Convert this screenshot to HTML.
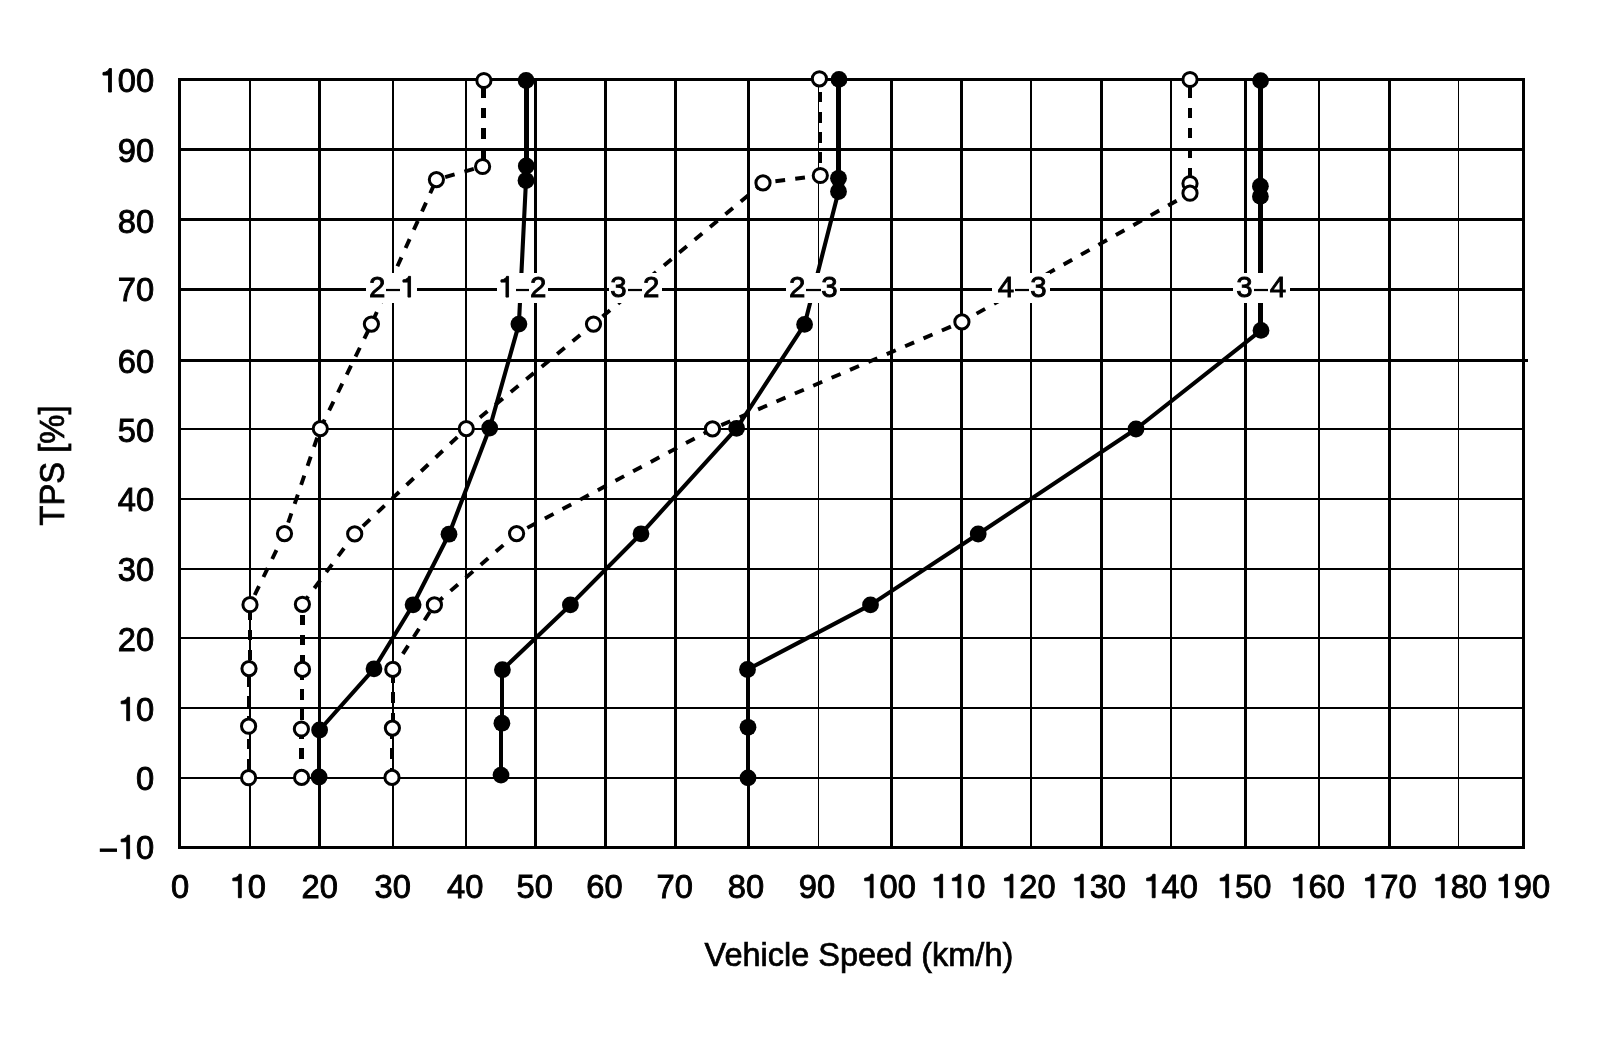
<!DOCTYPE html>
<html><head><meta charset="utf-8"><style>
html,body{margin:0;padding:0;background:#fff;width:1600px;height:1048px;overflow:hidden}
svg{display:block;will-change:transform}
text{font-family:"Liberation Sans",sans-serif}
</style></head><body>
<svg width="1600" height="1048" viewBox="0 0 1600 1048">
<rect x="0" y="0" width="1600" height="1048" fill="#fff"/>
<g shape-rendering="crispEdges" fill="#000">
<rect x="178" y="78" width="3" height="771"/>
<rect x="249" y="78" width="2" height="771"/>
<rect x="318" y="78" width="3" height="771"/>
<rect x="392" y="78" width="2" height="771"/>
<rect x="465" y="78" width="2" height="771"/>
<rect x="534" y="78" width="3" height="771"/>
<rect x="604" y="78" width="3" height="771"/>
<rect x="674" y="78" width="3" height="771"/>
<rect x="747" y="78" width="3" height="771"/>
<rect x="818" y="78" width="1" height="771"/>
<rect x="890" y="78" width="3" height="771"/>
<rect x="960" y="78" width="3" height="771"/>
<rect x="1030" y="78" width="2" height="771"/>
<rect x="1100" y="78" width="3" height="771"/>
<rect x="1170" y="78" width="2" height="771"/>
<rect x="1244" y="78" width="3" height="771"/>
<rect x="1318" y="78" width="2" height="771"/>
<rect x="1388" y="78" width="3" height="771"/>
<rect x="1458" y="78" width="1" height="771"/>
<rect x="1522" y="78" width="3" height="771"/>
<rect x="178" y="78" width="1347" height="3"/>
<rect x="178" y="148" width="1347" height="3"/>
<rect x="178" y="218" width="1347" height="3"/>
<rect x="178" y="288" width="1347" height="3"/>
<rect x="178" y="359" width="1350" height="3"/>
<rect x="178" y="428" width="1347" height="2"/>
<rect x="178" y="498" width="1347" height="2"/>
<rect x="178" y="568" width="1347" height="2"/>
<rect x="178" y="637" width="1347" height="2"/>
<rect x="178" y="707" width="1347" height="2"/>
<rect x="178" y="777" width="1347" height="2"/>
<rect x="178" y="846" width="1347" height="3"/>
</g>
<g fill="none" stroke="#000" stroke-dasharray="10.5 9.7">
<line x1="248.6" y1="777.7" x2="248.6" y2="726.2" stroke-width="4.0" stroke-dashoffset="12.1" shape-rendering="crispEdges"/>
<line x1="248.8" y1="726.2" x2="248.8" y2="668.6" stroke-width="4.0" stroke-dashoffset="0.7" shape-rendering="crispEdges"/>
<line x1="249.5" y1="668.6" x2="249.5" y2="604.7" stroke-width="4.0" stroke-dashoffset="11.8" shape-rendering="crispEdges"/>
<line x1="250" y1="604.7" x2="284.5" y2="533.6" stroke-width="3.9" stroke-dashoffset="9.2" stroke-dasharray="9.8 10.2"/>
<line x1="284.5" y1="533.6" x2="320.3" y2="428.6" stroke-width="3.9" stroke-dashoffset="8.5" stroke-dasharray="9.8 10.2"/>
<line x1="320.3" y1="428.6" x2="371.4" y2="324.1" stroke-width="3.9" stroke-dashoffset="19.8" stroke-dasharray="9.8 10.2"/>
<line x1="371.4" y1="324.1" x2="436.4" y2="179.6" stroke-width="3.9" stroke-dashoffset="16.6" stroke-dasharray="9.8 10.2"/>
<line x1="436.4" y1="179.6" x2="482.6" y2="166.5" stroke-width="3.9" stroke-dashoffset="10.9" stroke-dasharray="9.8 10.2"/>
<line x1="483.25" y1="166.5" x2="483.25" y2="80.5" stroke-width="4.6" stroke-dashoffset="12.5" shape-rendering="crispEdges"/>
<line x1="301.5" y1="777.4" x2="301.5" y2="729" stroke-width="4.6" stroke-dashoffset="1.7" shape-rendering="crispEdges"/>
<line x1="301.95" y1="729" x2="301.95" y2="669.4" stroke-width="4.6" stroke-dashoffset="11.1" shape-rendering="crispEdges"/>
<line x1="302.45" y1="669.4" x2="302.45" y2="604.3" stroke-width="4.6" stroke-dashoffset="16.3" shape-rendering="crispEdges"/>
<line x1="302.4" y1="604.3" x2="354.7" y2="533.9" stroke-width="3.9" stroke-dashoffset="0.0" stroke-dasharray="9.8 10.2"/>
<line x1="354.7" y1="533.9" x2="466.3" y2="428.6" stroke-width="3.9" stroke-dashoffset="8.7" stroke-dasharray="9.8 10.2"/>
<line x1="466.3" y1="428.6" x2="593.5" y2="324.1" stroke-width="3.9" stroke-dashoffset="2.4" stroke-dasharray="9.8 10.2"/>
<line x1="593.5" y1="324.1" x2="763" y2="182.9" stroke-width="3.9" stroke-dashoffset="8.3" stroke-dasharray="9.8 10.2"/>
<line x1="763" y1="182.9" x2="820.3" y2="175.5" stroke-width="3.9" stroke-dashoffset="7.5" stroke-dasharray="9.8 10.2"/>
<line x1="820.45" y1="175.5" x2="820.45" y2="78.8" stroke-width="3.0" stroke-dashoffset="7.6" shape-rendering="crispEdges"/>
<line x1="392.2" y1="777.4" x2="392.2" y2="728.1" stroke-width="4.2" stroke-dashoffset="1.5" shape-rendering="crispEdges"/>
<line x1="392.6" y1="728.1" x2="392.6" y2="669.4" stroke-width="4.2" stroke-dashoffset="15.1" shape-rendering="crispEdges"/>
<line x1="392.8" y1="669.4" x2="434.4" y2="604.9" stroke-width="3.9" stroke-dashoffset="1.5" stroke-dasharray="9.8 10.2"/>
<line x1="434.4" y1="604.9" x2="516.6" y2="533.6" stroke-width="3.9" stroke-dashoffset="18.6" stroke-dasharray="9.8 10.2"/>
<line x1="516.6" y1="533.6" x2="712.5" y2="428.9" stroke-width="3.9" stroke-dashoffset="7.9" stroke-dasharray="9.8 10.2"/>
<line x1="712.5" y1="428.9" x2="961.9" y2="321.9" stroke-width="3.9" stroke-dashoffset="10.4" stroke-dasharray="9.8 10.2"/>
<line x1="961.9" y1="321.9" x2="1190" y2="193.2" stroke-width="3.9" stroke-dashoffset="3.2" stroke-dasharray="9.8 10.2"/>
<line x1="1190.0" y1="193.2" x2="1190.0" y2="183.5" stroke-width="4.4" stroke-dashoffset="0" shape-rendering="crispEdges"/>
<line x1="1190.0" y1="183.5" x2="1190.0" y2="79.5" stroke-width="4.2" stroke-dashoffset="15.3" shape-rendering="crispEdges"/>
</g>
<g fill="none" stroke="#000" stroke-linecap="round">
<line x1="319.35" y1="777" x2="319.35" y2="730" stroke-width="4.0" shape-rendering="crispEdges"/>
<line x1="319.6" y1="730" x2="374" y2="668.8" stroke-width="4.1"/>
<line x1="374" y1="668.8" x2="413.1" y2="604.8" stroke-width="4.1"/>
<line x1="413.1" y1="604.8" x2="449" y2="534.2" stroke-width="4.1"/>
<line x1="449" y1="534.2" x2="489.7" y2="428" stroke-width="4.1"/>
<line x1="489.7" y1="428" x2="518.9" y2="324.1" stroke-width="4.1"/>
<line x1="518.9" y1="324.1" x2="526" y2="180.5" stroke-width="4.1"/>
<line x1="526.15" y1="180.5" x2="526.15" y2="166" stroke-width="5.0" shape-rendering="crispEdges"/>
<line x1="526.2" y1="166" x2="526.2" y2="80.5" stroke-width="5.0" shape-rendering="crispEdges"/>
<line x1="501.45" y1="775.1" x2="501.45" y2="723.2" stroke-width="4.0" shape-rendering="crispEdges"/>
<line x1="502.15" y1="723.2" x2="502.15" y2="669.7" stroke-width="4.0" shape-rendering="crispEdges"/>
<line x1="502.4" y1="669.7" x2="570.4" y2="604.9" stroke-width="4.1"/>
<line x1="570.4" y1="604.9" x2="641" y2="533.8" stroke-width="4.1"/>
<line x1="641" y1="533.8" x2="736.6" y2="428.3" stroke-width="4.1"/>
<line x1="736.6" y1="428.3" x2="804.6" y2="324.4" stroke-width="4.1"/>
<line x1="804.6" y1="324.4" x2="838.5" y2="191.5" stroke-width="4.1"/>
<line x1="838.5" y1="191.5" x2="838.5" y2="178.3" stroke-width="5.0" shape-rendering="crispEdges"/>
<line x1="838.75" y1="178.3" x2="838.75" y2="79.4" stroke-width="5.0" shape-rendering="crispEdges"/>
<line x1="748.0" y1="777.9" x2="748.0" y2="727.3" stroke-width="4.0" shape-rendering="crispEdges"/>
<line x1="747.75" y1="727.3" x2="747.75" y2="669.5" stroke-width="4.0" shape-rendering="crispEdges"/>
<line x1="747.5" y1="669.5" x2="870.5" y2="604.9" stroke-width="4.1"/>
<line x1="870.5" y1="604.9" x2="978.2" y2="534" stroke-width="4.1"/>
<line x1="978.2" y1="534" x2="1136" y2="429" stroke-width="4.1"/>
<line x1="1136" y1="429" x2="1261" y2="330.4" stroke-width="4.1"/>
<line x1="1260.7" y1="330.4" x2="1260.7" y2="196.4" stroke-width="5.0" shape-rendering="crispEdges"/>
<line x1="1260.4" y1="196.4" x2="1260.4" y2="186.2" stroke-width="5.0" shape-rendering="crispEdges"/>
<line x1="1260.5" y1="186.2" x2="1260.5" y2="80.6" stroke-width="5.0" shape-rendering="crispEdges"/>
</g>
<g fill="#fff" stroke="#000" stroke-width="3">
<circle cx="483.9" cy="80.5" r="7.1"/>
<circle cx="482.6" cy="166.5" r="7.1"/>
<circle cx="436.4" cy="179.6" r="7.1"/>
<circle cx="371.4" cy="324.1" r="7.1"/>
<circle cx="320.3" cy="428.6" r="7.1"/>
<circle cx="284.5" cy="533.6" r="7.1"/>
<circle cx="250" cy="604.7" r="7.1"/>
<circle cx="249" cy="668.6" r="7.1"/>
<circle cx="248.6" cy="726.2" r="7.1"/>
<circle cx="248.6" cy="777.7" r="7.1"/>
<circle cx="819.4" cy="78.8" r="7.1"/>
<circle cx="820.3" cy="175.5" r="7.1"/>
<circle cx="763" cy="182.9" r="7.1"/>
<circle cx="593.5" cy="324.1" r="7.1"/>
<circle cx="466.3" cy="428.6" r="7.1"/>
<circle cx="354.7" cy="533.9" r="7.1"/>
<circle cx="302.4" cy="604.3" r="7.1"/>
<circle cx="302.5" cy="669.4" r="7.1"/>
<circle cx="301.4" cy="729" r="7.1"/>
<circle cx="301.6" cy="777.4" r="7.1"/>
<circle cx="1190" cy="79.5" r="7.1"/>
<circle cx="1190" cy="183.5" r="7.1"/>
<circle cx="1190" cy="193.2" r="7.1"/>
<circle cx="961.9" cy="321.9" r="7.1"/>
<circle cx="712.5" cy="428.9" r="7.1"/>
<circle cx="516.6" cy="533.6" r="7.1"/>
<circle cx="434.4" cy="604.9" r="7.1"/>
<circle cx="392.8" cy="669.4" r="7.1"/>
<circle cx="392.4" cy="728.1" r="7.1"/>
<circle cx="392" cy="777.4" r="7.1"/>
</g><g fill="#000">
<circle cx="319.1" cy="777" r="8.4"/>
<circle cx="319.6" cy="730" r="8.4"/>
<circle cx="374" cy="668.8" r="8.4"/>
<circle cx="413.1" cy="604.8" r="8.4"/>
<circle cx="449" cy="534.2" r="8.4"/>
<circle cx="489.7" cy="428" r="8.4"/>
<circle cx="518.9" cy="324.1" r="8.4"/>
<circle cx="526" cy="180.5" r="8.4"/>
<circle cx="526.3" cy="166" r="8.4"/>
<circle cx="526.1" cy="80.5" r="8.4"/>
<circle cx="501" cy="775.1" r="8.4"/>
<circle cx="501.9" cy="723.2" r="8.4"/>
<circle cx="502.4" cy="669.7" r="8.4"/>
<circle cx="570.4" cy="604.9" r="8.4"/>
<circle cx="641" cy="533.8" r="8.4"/>
<circle cx="736.6" cy="428.3" r="8.4"/>
<circle cx="804.6" cy="324.4" r="8.4"/>
<circle cx="838.5" cy="191.5" r="8.4"/>
<circle cx="838.5" cy="178.3" r="8.4"/>
<circle cx="839" cy="79.4" r="8.4"/>
<circle cx="748" cy="777.9" r="8.4"/>
<circle cx="748" cy="727.3" r="8.4"/>
<circle cx="747.5" cy="669.5" r="8.4"/>
<circle cx="870.5" cy="604.9" r="8.4"/>
<circle cx="978.2" cy="534" r="8.4"/>
<circle cx="1136" cy="429" r="8.4"/>
<circle cx="1261" cy="330.4" r="8.4"/>
<circle cx="1260.4" cy="196.4" r="8.4"/>
<circle cx="1260.4" cy="186.2" r="8.4"/>
<circle cx="1260.6" cy="80.6" r="8.4"/>
</g>
<g fill="#000" stroke="#000" stroke-width="0.90">
<rect x="366" y="273" width="51" height="30" fill="#fff" stroke="none"/>
<text transform="translate(368.97 297.10) scale(1 1.0)" font-size="29.5">2</text>
<rect x="386" y="288.9" width="14" height="2.2" stroke="none"/>
<path d="M359 0L359 703L290 703C272 645 220 590 101 583L101 508L271 508L271 0Z" transform="translate(399.96 297.10) scale(0.02950 -0.02950)" stroke-width="30.51"/>
<rect x="497" y="273" width="51" height="30" fill="#fff" stroke="none"/>
<path d="M359 0L359 703L290 703C272 645 220 590 101 583L101 508L271 508L271 0Z" transform="translate(497.96 297.10) scale(0.02950 -0.02950)" stroke-width="30.51"/>
<rect x="516" y="288.9" width="13" height="2.2" stroke="none"/>
<text transform="translate(529.97 297.10) scale(1 1.0)" font-size="29.5">2</text>
<rect x="609" y="273" width="53" height="30" fill="#fff" stroke="none"/>
<text transform="translate(610.33 297.10) scale(1 1.0)" font-size="29.5">3</text>
<rect x="628" y="288.9" width="14" height="2.2" stroke="none"/>
<text transform="translate(642.97 297.10) scale(1 1.0)" font-size="29.5">2</text>
<rect x="786" y="273" width="54" height="30" fill="#fff" stroke="none"/>
<text transform="translate(788.97 297.10) scale(1 1.0)" font-size="29.5">2</text>
<rect x="806" y="288.9" width="15" height="2.2" stroke="none"/>
<text transform="translate(821.33 297.10) scale(1 1.0)" font-size="29.5">3</text>
<rect x="992" y="273" width="58" height="30" fill="#fff" stroke="none"/>
<text transform="translate(997.77 297.10) scale(1 1.0)" font-size="29.5">4</text>
<rect x="1015" y="288.9" width="14" height="2.2" stroke="none"/>
<text transform="translate(1030.33 297.10) scale(1 1.0)" font-size="29.5">3</text>
<rect x="1233" y="273" width="57" height="30" fill="#fff" stroke="none"/>
<text transform="translate(1236.33 297.10) scale(1 1.0)" font-size="29.5">3</text>
<rect x="1254" y="288.9" width="14" height="2.2" stroke="none"/>
<text transform="translate(1269.77 297.10) scale(1 1.0)" font-size="29.5">4</text>
</g>
<g fill="#000" stroke="#000" stroke-width="0.90">
<path d="M359 0L359 703L290 703C272 645 220 590 101 583L101 508L271 508L271 0Z" transform="translate(99.68 92.00) scale(0.03270 -0.03335)" stroke-width="27.52"/>
<text transform="translate(117.86 92.00) scale(1 1.02)" font-size="32.7">0</text>
<text transform="translate(136.04 92.00) scale(1 1.02)" font-size="32.7">0</text>
<text transform="translate(117.86 162.20) scale(1 1.02)" font-size="32.7">9</text>
<text transform="translate(136.04 162.20) scale(1 1.02)" font-size="32.7">0</text>
<text transform="translate(117.86 233.40) scale(1 1.02)" font-size="32.7">8</text>
<text transform="translate(136.04 233.40) scale(1 1.02)" font-size="32.7">0</text>
<text transform="translate(117.86 300.70) scale(1 1.02)" font-size="32.7">7</text>
<text transform="translate(136.04 300.70) scale(1 1.02)" font-size="32.7">0</text>
<text transform="translate(117.86 372.50) scale(1 1.02)" font-size="32.7">6</text>
<text transform="translate(136.04 372.50) scale(1 1.02)" font-size="32.7">0</text>
<text transform="translate(117.86 441.90) scale(1 1.02)" font-size="32.7">5</text>
<text transform="translate(136.04 441.90) scale(1 1.02)" font-size="32.7">0</text>
<text transform="translate(117.86 511.00) scale(1 1.02)" font-size="32.7">4</text>
<text transform="translate(136.04 511.00) scale(1 1.02)" font-size="32.7">0</text>
<text transform="translate(117.86 581.30) scale(1 1.02)" font-size="32.7">3</text>
<text transform="translate(136.04 581.30) scale(1 1.02)" font-size="32.7">0</text>
<text transform="translate(117.86 651.00) scale(1 1.02)" font-size="32.7">2</text>
<text transform="translate(136.04 651.00) scale(1 1.02)" font-size="32.7">0</text>
<path d="M359 0L359 703L290 703C272 645 220 590 101 583L101 508L271 508L271 0Z" transform="translate(117.86 720.70) scale(0.03270 -0.03335)" stroke-width="27.52"/>
<text transform="translate(136.04 720.70) scale(1 1.02)" font-size="32.7">0</text>
<text transform="translate(136.04 790.30) scale(1 1.02)" font-size="32.7">0</text>
<path d="M359 0L359 703L290 703C272 645 220 590 101 583L101 508L271 508L271 0Z" transform="translate(117.86 858.70) scale(0.03270 -0.03335)" stroke-width="27.52"/>
<text transform="translate(136.04 858.70) scale(1 1.02)" font-size="32.7">0</text>
<rect x="99.8" y="848.5" width="17.2" height="3.4" stroke="none"/>
<text transform="translate(170.91 897.70) scale(1 1.02)" font-size="32.7">0</text>
<path d="M359 0L359 703L290 703C272 645 220 590 101 583L101 508L271 508L271 0Z" transform="translate(229.52 897.70) scale(0.03270 -0.03335)" stroke-width="27.52"/>
<text transform="translate(247.70 897.70) scale(1 1.02)" font-size="32.7">0</text>
<text transform="translate(301.50 897.70) scale(1 1.02)" font-size="32.7">2</text>
<text transform="translate(319.68 897.70) scale(1 1.02)" font-size="32.7">0</text>
<text transform="translate(374.62 897.70) scale(1 1.02)" font-size="32.7">3</text>
<text transform="translate(392.80 897.70) scale(1 1.02)" font-size="32.7">0</text>
<text transform="translate(447.01 897.70) scale(1 1.02)" font-size="32.7">4</text>
<text transform="translate(465.20 897.70) scale(1 1.02)" font-size="32.7">0</text>
<text transform="translate(516.50 897.70) scale(1 1.02)" font-size="32.7">5</text>
<text transform="translate(534.68 897.70) scale(1 1.02)" font-size="32.7">0</text>
<text transform="translate(586.30 897.70) scale(1 1.02)" font-size="32.7">6</text>
<text transform="translate(604.48 897.70) scale(1 1.02)" font-size="32.7">0</text>
<text transform="translate(656.62 897.70) scale(1 1.02)" font-size="32.7">7</text>
<text transform="translate(674.80 897.70) scale(1 1.02)" font-size="32.7">0</text>
<text transform="translate(727.70 897.70) scale(1 1.02)" font-size="32.7">8</text>
<text transform="translate(745.88 897.70) scale(1 1.02)" font-size="32.7">0</text>
<text transform="translate(798.74 897.70) scale(1 1.02)" font-size="32.7">9</text>
<text transform="translate(816.92 897.70) scale(1 1.02)" font-size="32.7">0</text>
<path d="M359 0L359 703L290 703C272 645 220 590 101 583L101 508L271 508L271 0Z" transform="translate(861.38 897.70) scale(0.03270 -0.03335)" stroke-width="27.52"/>
<text transform="translate(879.56 897.70) scale(1 1.02)" font-size="32.7">0</text>
<text transform="translate(897.74 897.70) scale(1 1.02)" font-size="32.7">0</text>
<path d="M359 0L359 703L290 703C272 645 220 590 101 583L101 508L271 508L271 0Z" transform="translate(930.88 897.70) scale(0.03270 -0.03335)" stroke-width="27.52"/>
<path d="M359 0L359 703L290 703C272 645 220 590 101 583L101 508L271 508L271 0Z" transform="translate(949.06 897.70) scale(0.03270 -0.03335)" stroke-width="27.52"/>
<text transform="translate(967.24 897.70) scale(1 1.02)" font-size="32.7">0</text>
<path d="M359 0L359 703L290 703C272 645 220 590 101 583L101 508L271 508L271 0Z" transform="translate(1001.18 897.70) scale(0.03270 -0.03335)" stroke-width="27.52"/>
<text transform="translate(1019.36 897.70) scale(1 1.02)" font-size="32.7">2</text>
<text transform="translate(1037.54 897.70) scale(1 1.02)" font-size="32.7">0</text>
<path d="M359 0L359 703L290 703C272 645 220 590 101 583L101 508L271 508L271 0Z" transform="translate(1071.48 897.70) scale(0.03270 -0.03335)" stroke-width="27.52"/>
<text transform="translate(1089.66 897.70) scale(1 1.02)" font-size="32.7">3</text>
<text transform="translate(1107.84 897.70) scale(1 1.02)" font-size="32.7">0</text>
<path d="M359 0L359 703L290 703C272 645 220 590 101 583L101 508L271 508L271 0Z" transform="translate(1143.38 897.70) scale(0.03270 -0.03335)" stroke-width="27.52"/>
<text transform="translate(1161.56 897.70) scale(1 1.02)" font-size="32.7">4</text>
<text transform="translate(1179.74 897.70) scale(1 1.02)" font-size="32.7">0</text>
<path d="M359 0L359 703L290 703C272 645 220 590 101 583L101 508L271 508L271 0Z" transform="translate(1216.88 897.70) scale(0.03270 -0.03335)" stroke-width="27.52"/>
<text transform="translate(1235.06 897.70) scale(1 1.02)" font-size="32.7">5</text>
<text transform="translate(1253.24 897.70) scale(1 1.02)" font-size="32.7">0</text>
<path d="M359 0L359 703L290 703C272 645 220 590 101 583L101 508L271 508L271 0Z" transform="translate(1290.28 897.70) scale(0.03270 -0.03335)" stroke-width="27.52"/>
<text transform="translate(1308.46 897.70) scale(1 1.02)" font-size="32.7">6</text>
<text transform="translate(1326.64 897.70) scale(1 1.02)" font-size="32.7">0</text>
<path d="M359 0L359 703L290 703C272 645 220 590 101 583L101 508L271 508L271 0Z" transform="translate(1362.18 897.70) scale(0.03270 -0.03335)" stroke-width="27.52"/>
<text transform="translate(1380.36 897.70) scale(1 1.02)" font-size="32.7">7</text>
<text transform="translate(1398.54 897.70) scale(1 1.02)" font-size="32.7">0</text>
<path d="M359 0L359 703L290 703C272 645 220 590 101 583L101 508L271 508L271 0Z" transform="translate(1432.48 897.70) scale(0.03270 -0.03335)" stroke-width="27.52"/>
<text transform="translate(1450.66 897.70) scale(1 1.02)" font-size="32.7">8</text>
<text transform="translate(1468.84 897.70) scale(1 1.02)" font-size="32.7">0</text>
<path d="M359 0L359 703L290 703C272 645 220 590 101 583L101 508L271 508L271 0Z" transform="translate(1495.68 897.70) scale(0.03270 -0.03335)" stroke-width="27.52"/>
<text transform="translate(1513.86 897.70) scale(1 1.02)" font-size="32.7">9</text>
<text transform="translate(1532.04 897.70) scale(1 1.02)" font-size="32.7">0</text>
</g>
<g fill="#000" stroke="#000" stroke-width="0.7">
<text transform="translate(858.9 966.4) scale(1 1.042)" font-size="32.5" text-anchor="middle">Vehicle Speed (km/h)</text>
<text transform="translate(63.5 465.5) rotate(-90) scale(1 1.09)" font-size="32.8" text-anchor="middle">TPS [%]</text>
</g>
</svg>
</body></html>
